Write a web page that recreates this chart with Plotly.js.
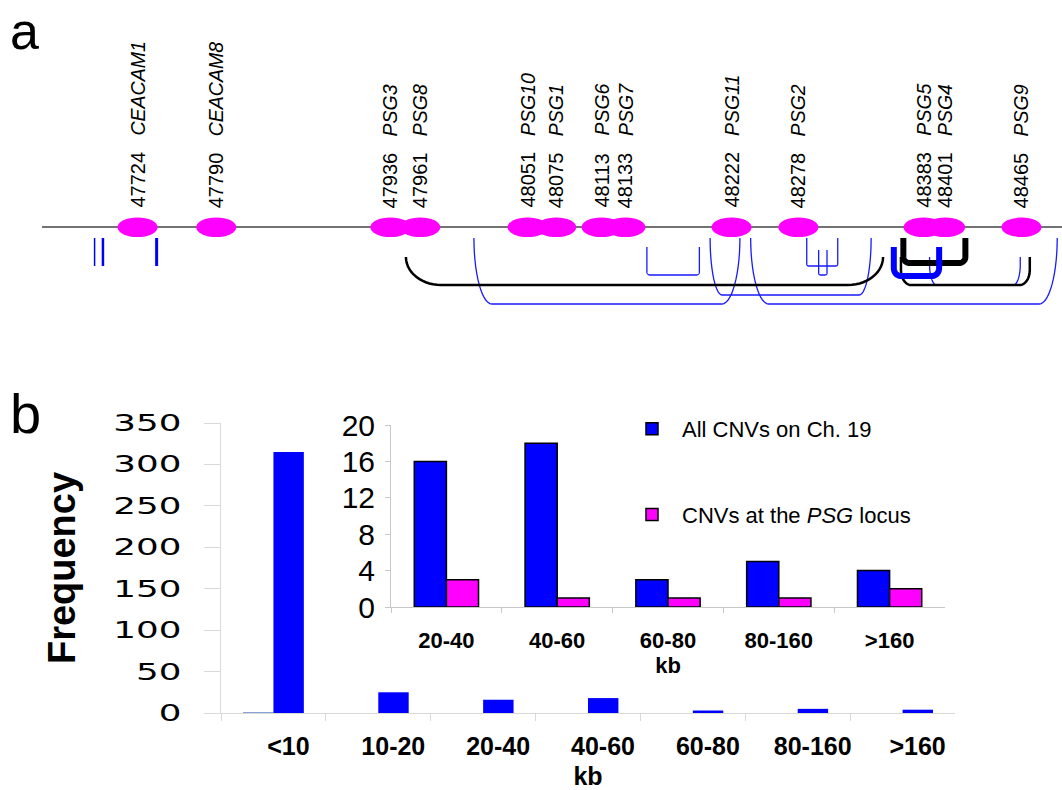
<!DOCTYPE html>
<html><head><meta charset="utf-8">
<script src="https://cdn.plot.ly/plotly-3.0.1.min.js"></script>
<style>
body{margin:0;background:#fff;}
#chart{width:1062px;height:790px;}
</style></head>
<body><div id="chart"></div>
<script>
// ---------- Panel a data ----------
const geneNames = ['CEACAM1','CEACAM8','PSG3','PSG8','PSG10','PSG1','PSG6','PSG7','PSG11','PSG2','PSG5','PSG4','PSG9'];
const genePos   = [47724,47790,47936,47961,48051,48075,48113,48133,48222,48278,48383,48401,48465];

// CNV intervals at the locus (kb)
const cnvStart = [48006,48151,48204,48238,48285,48295,48388,47949,48364,48366,48358];
const cnvEnd   = [48229,48195,48339,48495,48311,48302,48464,48349,48472,48418,48396];
const cnvKind  = ['thin','thin','thin','thin','thin','thin','thin','mid','mid','thickBlack','thickBlue'];
// very small CNVs near CEACAM1 (kb)
const smallCnvPos = [47688,47695,47740];

// drawing rows (px below the chromosome line) and corner sizes
const cnvRowTop    = [11,20,11,11,11,23,30,30,30,11,20];
const cnvRowBottom = [77,48,68,77,39,48,58,58,58,36,49];
const cnvCornerX   = [18,3,12,18,2,2,7,35,10,6,7];
const cnvCornerY   = [66,3,57,66,2,2,20,28,15,6,8];
const smallCnvWidth = [1.5,2.5,3];

const kindStyle = {
  thin:{color:'#1a1aff',width:1.3},
  mid:{color:'#000000',width:2.5},
  thickBlack:{color:'#000000',width:6},
  thickBlue:{color:'#0000ff',width:6}
};

// ---------- Panel b data ----------
const sizeBins = ['<10','10-20','20-40','40-60','60-80','80-160','>160'];
const allCnvCounts = [315,25,16,18,3,5,4];
const psgCountsMain = [1,0,0,0,0,0,0];
const insetBins = ['20-40','40-60','60-80','80-160','>160'];
const insetAll = [16,18,3,5,4];
const insetPsg = [3,1,1,1,2];

// ---------- geometry helpers ----------
const W = 1062, H = 790;
const xR = [47608.7, 48499];
const pxPerKb = W / (xR[1]-xR[0]);
const FONT = 'Liberation Sans, Arial, sans-serif';

function bracket(i){
  const xs = cnvStart[i], xe = cnvEnd[i];
  const top = -cnvRowTop[i], bot = -cnvRowBottom[i];
  const rx = cnvCornerX[i]/pxPerKb, ry = cnvCornerY[i];
  const X=[], Y=[];
  X.push(xs); Y.push(top);
  const n=14;
  for(let k=0;k<=n;k++){const t=k/n*Math.PI/2;
    X.push(xs+rx-rx*Math.cos(t)); Y.push(bot+ry-ry*Math.sin(t));}
  for(let k=n;k>=0;k--){const t=k/n*Math.PI/2;
    X.push(xe-rx+rx*Math.cos(t)); Y.push(bot+ry-ry*Math.sin(t));}
  X.push(xe); Y.push(top);
  const st = kindStyle[cnvKind[i]];
  return {type:'scatter',mode:'lines',x:X,y:Y,xaxis:'x',yaxis:'y',
    line:{color:st.color,width:st.width,simplify:false},hoverinfo:'skip',showlegend:false};
}

const traces = [];
for(let i=0;i<cnvStart.length;i++) traces.push(bracket(i));
smallCnvPos.forEach((p,i)=>{
  traces.push({type:'scatter',mode:'lines',x:[p,p],y:[-11,-39],xaxis:'x',yaxis:'y',
    line:{color:'#0000ff',width:smallCnvWidth[i]},hoverinfo:'skip',showlegend:false});
});

// main histogram
traces.push({type:'bar',x:sizeBins,y:psgCountsMain,xaxis:'x2',yaxis:'y2',
  marker:{color:'#6f8fd0',line:{width:0}},showlegend:false,hoverinfo:'skip'});
traces.push({type:'bar',x:sizeBins,y:allCnvCounts,xaxis:'x2',yaxis:'y2',
  marker:{color:'#0000ff',line:{width:0}},showlegend:false,hoverinfo:'skip'});
// inset
traces.push({type:'bar',x:insetBins,y:insetAll,xaxis:'x3',yaxis:'y3',name:'All CNVs on Ch. 19',
  legendgroup:'g1',marker:{color:'#0000ff',line:{color:'#000',width:1.5}},hoverinfo:'skip'});
traces.push({type:'bar',x:insetBins,y:insetPsg,xaxis:'x3',yaxis:'y3',name:'CNVs at the <i>PSG</i> locus',
  legendgroup:'g2',marker:{color:'#ff00ff',line:{color:'#000',width:1.5}},hoverinfo:'skip'});

// shapes: chromosome line + genes
const shapes = [{type:'line',xref:'paper',yref:'y',x0:42/W,x1:1,y0:0,y1:0,
  line:{color:'#444',width:1.5}}];
genePos.forEach(p=>{
  shapes.push({type:'circle',xref:'x',yref:'y',xsizemode:'pixel',ysizemode:'pixel',
    xanchor:p,yanchor:0,x0:-20,x1:20,y0:-10,y1:9.5,fillcolor:'#ff00ff',line:{width:0}});
});

const annotations = [];
genePos.forEach((p,i)=>{
  annotations.push({x:p,y:17,xref:'x',yref:'y',text:String(p),textangle:-90,showarrow:false,
    xanchor:'center',yanchor:'bottom',font:{family:FONT,size:20,color:'#000'}});
  annotations.push({x:p,y:89,xref:'x',yref:'y',text:'<i>'+geneNames[i]+'</i>',textangle:-90,showarrow:false,
    xanchor:'center',yanchor:'bottom',font:{family:FONT,size:19.5,color:'#000'}});
});
annotations.push({x:8/W,y:1,xref:'paper',yref:'paper',text:'a',showarrow:false,
  xanchor:'left',yanchor:'top',font:{family:FONT,size:52,color:'#000'}});
annotations.push({x:8/W,y:1-413/H,xref:'paper',yref:'paper',text:'b',showarrow:false,
  xanchor:'left',yanchor:'middle',font:{family:FONT,size:56,color:'#000'}});

const layout = {
  width:W,height:H,margin:{l:0,r:0,t:0,b:0,autoexpand:false},
  paper_bgcolor:'#fff',plot_bgcolor:'rgba(0,0,0,0)',
  font:{family:FONT,color:'#000'},
  barmode:'group',bargap:0.42,bargroupgap:0,
  xaxis:{domain:[0,1],range:xR,visible:false,fixedrange:true},
  yaxis:{domain:[1-330/H,1],range:[-103,227],visible:false,fixedrange:true,anchor:'x'},
  xaxis2:{domain:[221/W,955/W],anchor:'y2',type:'category',showline:true,linecolor:'#d9d9d9',
    ticks:'outside',ticklen:7,tickcolor:'#d9d9d9',tickson:'boundaries',showgrid:false,zeroline:false,
    tickfont:{family:FONT,size:25,weight:'bold',color:'#000'},ticklabelshift:15,ticklabelstandoff:11,
    title:{text:'kb',font:{family:FONT,size:25,weight:'bold'},standoff:15}},
  yaxis2:{domain:[77/H,367/H],anchor:'x2',range:[0,350],dtick:50,showline:true,linecolor:'#d9d9d9',
    ticks:'outside',ticklen:16,tickcolor:'#d9d9d9',showgrid:false,zeroline:false,
    tickfont:{family:'DejaVu Sans, sans-serif',size:23,color:'#000'},ticklabelstandoff:18,
    title:{text:'Frequency',font:{family:FONT,size:38,weight:'bold'},standoff:50}},
  xaxis3:{domain:[391/W,945/W],anchor:'y3',type:'category',showline:true,linecolor:'#c8c8c8',
    ticks:'outside',ticklen:5,tickcolor:'#c8c8c8',tickson:'boundaries',showgrid:false,zeroline:false,
    tickfont:{family:FONT,size:22,weight:'bold',color:'#000'},ticklabelstandoff:14,
    title:{text:'kb',font:{family:FONT,size:22,weight:'bold'},standoff:1}},
  yaxis3:{domain:[183/H,365/H],anchor:'x3',range:[0,20],dtick:4,showline:true,linecolor:'#c8c8c8',
    ticks:'outside',ticklen:5,tickcolor:'#c8c8c8',showgrid:false,zeroline:false,ticklabelstandoff:4,
    tickfont:{family:'Liberation Sans Narrow, Arial Narrow, '+FONT,size:30,color:'#000'}},
  showlegend:true,
  legend:{x:622/W,y:1-408/H,xanchor:'left',yanchor:'top',bgcolor:'rgba(0,0,0,0)',
    font:{family:FONT,size:22,color:'#000'},tracegroupgap:54,itemwidth:50,traceorder:'grouped'},
  shapes:shapes,annotations:annotations
};

Plotly.newPlot('chart',traces,layout,{staticPlot:true,displayModeBar:false}).then(()=>{
  // widen the main axis tick glyphs like the original's extended face
  document.querySelectorAll('g.y2tick text').forEach(t=>{
    const w = t.getComputedTextLength();
    t.setAttribute('textLength', (w*1.55).toFixed(1));
    t.setAttribute('lengthAdjust','spacingAndGlyphs');
  });
});
</script>
</body></html>
